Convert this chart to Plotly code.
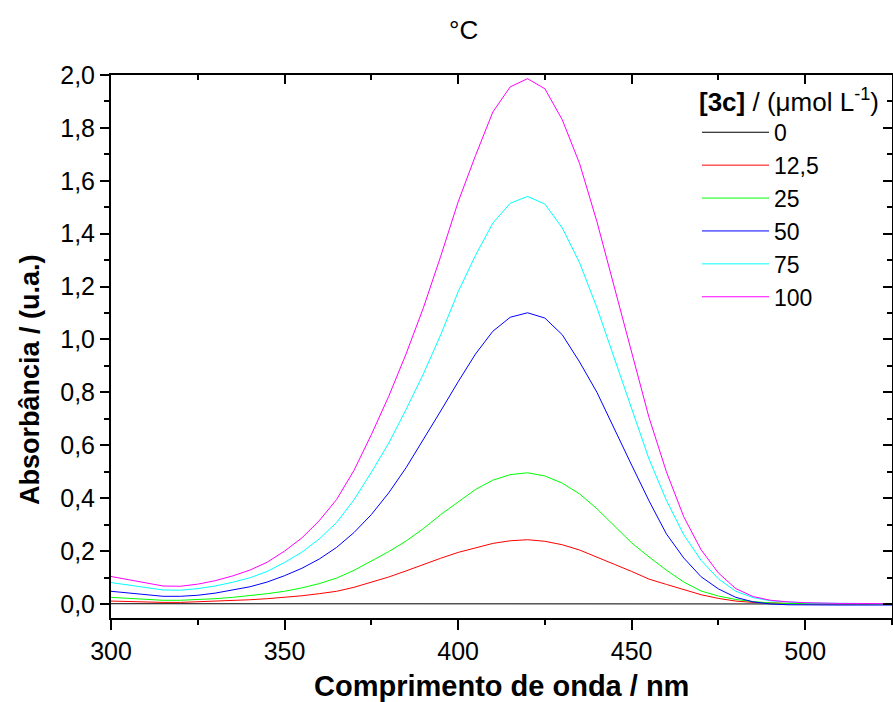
import plotly.graph_objects as go

wavelength = [300, 305, 310, 315, 320, 325, 330, 335, 340, 345, 350, 355, 360, 365, 370, 375,
              380, 385, 390, 395, 400, 405, 410, 415, 420, 425, 430, 435, 440, 445, 450, 455,
              460, 465, 470, 475, 480, 485, 490, 495, 500, 505, 510, 515, 520, 525]

abs_0 = [0.001, 0.001, 0.001, 0.001, 0.001, 0.001, 0.001, 0.001, 0.001, 0.001, 0.001, 0.001,
         0.002, 0.002, 0.002, 0.002, 0.002, 0.002, 0.002, 0.002, 0.002, 0.002, 0.002, 0.002,
         0.001, 0.001, 0.001, 0.001, 0.001, 0.001, 0.001, 0.001, 0.001, 0.001, 0.001, 0.001,
         0.000, 0.000, 0.000, 0.000, 0.000, 0.000, 0.000, 0.000, 0.000, 0.000]

abs_12_5 = [0.011, 0.009, 0.007, 0.006, 0.006, 0.008, 0.010, 0.013, 0.016, 0.020, 0.025, 0.031,
            0.039, 0.048, 0.063, 0.082, 0.102, 0.125, 0.150, 0.173, 0.195, 0.213, 0.229, 0.239,
            0.243, 0.237, 0.224, 0.204, 0.178, 0.150, 0.123, 0.094, 0.074, 0.055, 0.035, 0.021,
            0.011, 0.006, 0.003, 0.002, 0.001, 0.001, 0.000, 0.000, 0.000, 0.000]

abs_25 = [0.025, 0.021, 0.017, 0.014, 0.014, 0.016, 0.020, 0.025, 0.031, 0.039, 0.048, 0.061,
          0.077, 0.098, 0.127, 0.162, 0.198, 0.238, 0.285, 0.338, 0.386, 0.433, 0.468, 0.489,
          0.496, 0.484, 0.457, 0.416, 0.360, 0.297, 0.231, 0.178, 0.128, 0.083, 0.049, 0.030,
          0.017, 0.009, 0.004, 0.002, 0.001, 0.000, 0.000, 0.000, 0.000, 0.000]

abs_50 = [0.048, 0.041, 0.035, 0.029, 0.029, 0.033, 0.041, 0.052, 0.065, 0.083, 0.107, 0.135,
          0.170, 0.214, 0.270, 0.338, 0.420, 0.515, 0.620, 0.730, 0.840, 0.945, 1.031, 1.084,
          1.101, 1.081, 1.018, 0.915, 0.800, 0.660, 0.525, 0.390, 0.265, 0.174, 0.103, 0.057,
          0.025, 0.008, 0.000, -0.003, -0.004, -0.004, -0.004, -0.004, -0.004, -0.004]

abs_75 = [0.081, 0.071, 0.062, 0.053, 0.052, 0.058, 0.068, 0.082, 0.099, 0.123, 0.157, 0.196,
          0.246, 0.308, 0.394, 0.498, 0.608, 0.735, 0.870, 1.018, 1.180, 1.318, 1.440, 1.515,
          1.541, 1.512, 1.422, 1.290, 1.120, 0.930, 0.738, 0.548, 0.392, 0.262, 0.165, 0.095,
          0.048, 0.024, 0.012, 0.007, 0.004, 0.003, 0.002, 0.002, 0.001, 0.001]

abs_100 = [0.104, 0.092, 0.080, 0.068, 0.067, 0.075, 0.088, 0.106, 0.128, 0.158, 0.200, 0.250,
           0.315, 0.395, 0.505, 0.640, 0.785, 0.945, 1.120, 1.315, 1.520, 1.695, 1.860, 1.955,
           1.986, 1.948, 1.831, 1.665, 1.445, 1.200, 0.950, 0.705, 0.500, 0.330, 0.205, 0.117,
           0.058, 0.028, 0.014, 0.008, 0.005, 0.003, 0.002, 0.002, 0.001, 0.001]

series_names = ["0", "12,5", "25", "50", "75", "100"]
series_values = [abs_0, abs_12_5, abs_25, abs_50, abs_75, abs_100]
series_colors = ["#000000", "#ff0000", "#00ff00", "#0000ff", "#00ffff", "#ff00ff"]

FONT = "Liberation Sans, Arial, sans-serif"

W, H = 893, 702
L, T, R, B = 111, 75, 1, 84
PW = W - L - R
PH = H - T - B


def px_x(p):
    return (p - L) / PW


def px_y(p):
    return (H - B - p) / PH


fig = go.Figure()
for i, (name, vals, col) in enumerate(zip(series_names, series_values, series_colors)):
    fig.add_trace(go.Scatter(
        x=wavelength, y=vals, mode="lines", name=name,
        line=dict(color=col, width=1), legendgroup=f"g{i}",
    ))

# empty helper trace so the mirrored (top / right) frame axes get drawn
fig.add_trace(go.Scatter(x=[None], y=[None], xaxis="x2", yaxis="y2", mode="lines",
                         showlegend=False, hoverinfo="skip"))

x_range = [300, 525]
y_range = [-0.053, 2.0]

common = dict(showgrid=False, zeroline=False, showline=True, linecolor="black",
              linewidth=2, tickcolor="black", tickwidth=2, automargin=False)

fig.update_layout(
    width=W, height=H,
    margin=dict(l=L, r=R, t=T, b=B, autoexpand=False),
    paper_bgcolor="white", plot_bgcolor="white",
    separators=", ",
    font=dict(family=FONT, color="black", size=24),
    showlegend=True,
    legend=dict(
        x=px_x(697), y=px_y(77), xanchor="left", yanchor="top",
        bgcolor="rgba(0,0,0,0)", borderwidth=0,
        font=dict(family=FONT, size=23, color="black"),
        title=dict(text="<b>[3c]</b> / (μmol L<sup>-1</sup>)",
                   font=dict(family=FONT, size=26, color="black")),
        tracegroupgap=0, itemwidth=67,
    ),
    xaxis=dict(range=x_range, tick0=300, dtick=50, ticks="outside", ticklen=10,
               tickfont=dict(family=FONT, size=25, color="black"),
               minor=dict(ticks="outside", dtick=25, ticklen=5, tickwidth=2, tickcolor="black"),
               **common),
    yaxis=dict(range=y_range, tick0=0, dtick=0.2, tickformat=".1f", ticks="outside", ticklen=9,
               tickfont=dict(family=FONT, size=25, color="black"),
               minor=dict(ticks="outside", dtick=0.1, ticklen=5, tickwidth=2, tickcolor="black"),
               **common),
    xaxis2=dict(range=x_range, overlaying="x", side="top", anchor="y", tick0=300, dtick=50,
                ticks="inside", ticklen=9, showticklabels=False,
                minor=dict(ticks="inside", dtick=25, ticklen=5, tickwidth=2, tickcolor="black"),
                **common),
    yaxis2=dict(range=y_range, overlaying="y", side="right", anchor="x", tick0=0, dtick=0.2,
                ticks="inside", ticklen=9, showticklabels=False,
                minor=dict(ticks="inside", dtick=0.1, ticklen=5, tickwidth=2, tickcolor="black"),
                **common),
    annotations=[
        dict(text="<b>Comprimento de onda / nm</b>", xref="paper", yref="paper",
             x=px_x(501), y=px_y(686), xanchor="center", yanchor="middle", showarrow=False,
             font=dict(family=FONT, size=29, color="black")),
        dict(text="<b>Absorbância / (u.a.)</b>", xref="paper", yref="paper",
             x=px_x(30), y=px_y(380), xanchor="center", yanchor="middle",
             textangle=-90, showarrow=False,
             font=dict(family=FONT, size=27, color="black")),
        dict(text="°C", xref="paper", yref="paper",
             x=px_x(463), y=px_y(30), xanchor="center", yanchor="middle",
             showarrow=False, font=dict(family=FONT, size=26, color="black")),
    ],
)

fig.write_html(
    "out.html",
    config={"displayModeBar": False},
    post_script="document.body.style.margin='0';document.body.style.overflow='hidden';",
)
